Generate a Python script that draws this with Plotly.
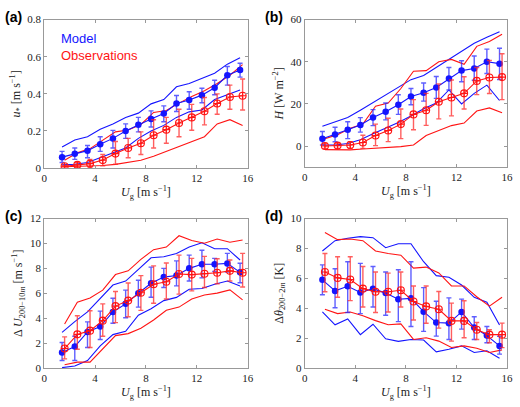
import plotly.graph_objects as go

# ---------------- data ----------------
x_model = [1.4, 2.4, 3.4, 4.4, 5.4, 6.4, 7.4, 8.4, 9.4, 10.4, 11.4, 12.4, 13.4, 14.4, 15.4]
x_obs = [1.6, 2.6, 3.6, 4.6, 5.6, 6.6, 7.6, 8.6, 9.6, 10.6, 11.6, 12.6, 13.6, 14.6, 15.6]

# (a) u*
a_mod = [0.059, 0.077, 0.094, 0.129, 0.16, 0.2, 0.233, 0.264, 0.294, 0.348, 0.367, 0.393, 0.433, 0.50, 0.529]
a_mod_hi = [0.09, 0.108, 0.122, 0.169, 0.203, 0.238, 0.273, 0.308, 0.335, 0.391, 0.411, 0.430, 0.473, 0.547, 0.565]
a_mod_lo = [0.03, 0.047, 0.056, 0.09, 0.108, 0.16, 0.195, 0.221, 0.25, 0.305, 0.317, 0.352, 0.395, 0.447, 0.49]
a_mod_up = [0.113, 0.151, 0.169, 0.209, 0.238, 0.273, 0.296, 0.346, 0.369, 0.438, 0.456, 0.482, 0.511, 0.56, 0.595]
a_mod_dn = [0.017, 0.021, 0.03, 0.056, 0.082, 0.108, 0.16, 0.2, 0.23, 0.273, 0.303, 0.313, 0.369, 0.395, 0.421]
a_obs = [0.01, 0.017, 0.024, 0.043, 0.078, 0.108, 0.134, 0.177, 0.207, 0.243, 0.273, 0.306, 0.348, 0.383, 0.39]
a_obs_hi = [0.014, 0.03, 0.047, 0.073, 0.143, 0.16, 0.195, 0.26, 0.273, 0.317, 0.343, 0.38, 0.4, 0.447, 0.48]
a_obs_lo = [0.006, 0.004, 0.004, 0.012, 0.021, 0.056, 0.073, 0.108, 0.134, 0.169, 0.204, 0.233, 0.29, 0.317, 0.313]
a_obs_up = [0.042, 0.082, 0.105, 0.15, 0.195, 0.205, 0.235, 0.30, 0.31, 0.35, 0.386, 0.417, 0.456, 0.50, 0.557]
a_obs_dn = [0.007, 0.008, 0.01, 0.014, 0.02, 0.03, 0.042, 0.064, 0.09, 0.113, 0.143, 0.169, 0.238, 0.261, 0.23]

# (b) H
b_mod = [3.5, 5.5, 7.7, 10.0, 13.5, 16.3, 19.6, 23.5, 25.3, 27.8, 32.0, 35.8, 36.8, 40.0, 39.1]
b_mod_hi = [6.9, 8.9, 11.5, 13.5, 17.3, 20.4, 24.3, 27.3, 29.9, 33.0, 37.3, 40.5, 42.7, 46.0, 46.4]
b_mod_lo = [0.5, 2.0, 3.5, 6.6, 9.7, 12.4, 15.0, 19.6, 21.3, 22.6, 26.6, 30.5, 31.2, 34.4, 31.6]
b_mod_up = [9.4, 11.5, 13.5, 17.0, 20.6, 24.3, 27.8, 31.5, 33.5, 37.3, 41.0, 45.0, 48.8, 51.6, 54.2]
b_mod_dn = [0.5, 0.5, 1.2, 3.0, 5.8, 8.4, 11.2, 14.3, 17.7, 20.4, 26.6, 20.0, 25.0, 28.9, 21.6]
b_obs = [0.0, 0.2, 0.5, 1.7, 5.0, 7.4, 10.4, 15.0, 17.0, 21.0, 23.0, 25.0, 30.9, 32.5, 32.7]
b_obs_hi = [1.2, 1.2, 2.0, 5.1, 10.4, 13.2, 17.6, 22.0, 25.0, 29.5, 31.3, 32.9, 37.3, 40.6, 43.8]
b_obs_lo = [-1.1, -1.1, -1.1, -1.1, 0.2, 2.1, 3.5, 7.7, 9.8, 12.9, 14.3, 17.6, 24.4, 24.9, 22.0]
b_obs_up = [3.5, 5.4, 8.4, 10.4, 18.9, 20.4, 27.3, 35.5, 35.8, 40.0, 41.1, 38.8, 47.3, 49.6, 53.0]
b_obs_dn = [-1.7, -1.7, -1.8, -1.4, -1.0, -0.8, -0.3, 0.5, 5.0, 7.4, 9.7, 10.9, 16.6, 18.1, 15.8]

# (c) dU 200-10m
c_mod = [1.25, 1.72, 2.9, 3.33, 4.5, 5.15, 6.0, 6.8, 7.3, 7.42, 8.0, 8.33, 8.33, 8.4, 7.68]
c_mod_hi = [2.05, 2.55, 3.7, 4.57, 5.6, 6.25, 7.05, 8.1, 8.0, 8.6, 9.06, 9.45, 8.8, 9.2, 8.41]
c_mod_lo = [0.6, 0.6, 1.65, 2.29, 3.59, 4.04, 4.89, 5.68, 6.46, 6.59, 6.98, 7.24, 7.76, 7.7, 6.85]
c_mod_up = [2.86, 3.72, 4.5, 5.54, 6.66, 6.98, 7.89, 8.85, 8.93, 9.19, 9.71, 10.05, 9.58, 9.58, 8.67]
c_mod_dn = [0.03, 0.16, 0.6, 1.77, 2.68, 2.94, 4.24, 4.76, 5.41, 5.67, 6.32, 6.38, 6.72, 6.98, 6.59]
c_obs = [1.56, 2.7, 3.0, 3.8, 4.97, 5.41, 6.04, 6.72, 6.92, 7.55, 7.5, 7.57, 7.65, 7.8, 7.65]
c_obs_hi = [2.5, 4.2, 4.6, 5.15, 6.14, 6.82, 7.42, 8.2, 8.43, 9.06, 8.8, 8.96, 8.77, 8.67, 9.2]
c_obs_lo = [0.73, 1.51, 1.64, 2.55, 3.64, 4.11, 4.63, 5.2, 5.54, 5.93, 6.19, 6.46, 6.77, 6.98, 6.5]
c_obs_up = [3.54, 5.28, 5.62, 6.25, 7.5, 7.8, 8.72, 9.5, 9.71, 10.62, 10.23, 10.02, 10.36, 10.1, 10.28]
c_obs_dn = [0.26, 0.47, 0.47, 1.5, 2.6, 2.76, 3.2, 3.85, 4.63, 4.89, 5.54, 5.86, 6.01, 6.27, 5.47]

# (d) dTheta 200-2m
d_mod = [5.9, 5.16, 5.47, 5.05, 5.31, 5.01, 4.6, 4.66, 3.77, 3.04, 3.0, 3.75, 2.71, 2.17, 1.48]
d_mod_hi = [6.9, 6.64, 7.11, 7.0, 6.79, 6.42, 6.57, 7.11, 5.38, 4.47, 4.69, 4.61, 3.43, 2.78, 2.12]
d_mod_lo = [4.9, 4.03, 3.71, 3.64, 4.08, 3.53, 3.1, 2.78, 2.45, 2.13, 1.91, 2.6, 1.91, 1.69, 0.93]
d_mod_up = [7.83, 8.52, 8.68, 8.79, 8.72, 8.05, 8.31, 8.31, 7.11, 6.18, 6.07, 5.55, 4.73, 4.4, 2.88]
d_mod_dn = [3.75, 2.89, 3.28, 2.23, 2.93, 1.95, 1.78, 1.91, 1.87, 1.08, 1.26, 1.48, 1.04, 1.15, 0.65]
d_obs = [6.42, 6.03, 5.92, 5.31, 5.1, 5.1, 5.2, 4.45, 4.12, 3.93, 3.15, 3.15, 2.56, 2.23, 2.23]
d_obs_hi = [7.66, 7.44, 7.44, 6.79, 6.42, 6.35, 6.42, 5.49, 5.49, 5.12, 4.34, 4.5, 3.04, 2.56, 3.0]
d_obs_lo = [5.1, 4.73, 4.51, 4.08, 3.71, 3.75, 4.08, 3.21, 2.99, 2.67, 1.8, 2.02, 1.91, 1.69, 1.36]
d_obs_up = [9.07, 8.59, 8.63, 8.52, 7.83, 7.66, 7.55, 6.68, 6.75, 6.36, 5.49, 5.49, 4.77, 4.14, 4.73]
d_obs_dn = [3.93, 3.64, 3.75, 3.49, 3.17, 2.89, 2.95, 1.91, 2.02, 1.8, 1.37, 1.48, 1.32, 1.04, 1.21]

panels = [
    dict(name="a", mod=a_mod, mod_hi=a_mod_hi, mod_lo=a_mod_lo, mod_up=a_mod_up, mod_dn=a_mod_dn,
         obs=a_obs, obs_hi=a_obs_hi, obs_lo=a_obs_lo, obs_up=a_obs_up, obs_dn=a_obs_dn,
         yrange=[0, 0.8], yticks=[0, 0.2, 0.4, 0.6, 0.8], yticktext=["0", "0.2", "0.4", "0.6", "0.8"],
         ytitle="<i>u</i><sub>*</sub> [m s<sup>−1</sup>]"),
    dict(name="b", mod=b_mod, mod_hi=b_mod_hi, mod_lo=b_mod_lo, mod_up=b_mod_up, mod_dn=b_mod_dn,
         obs=b_obs, obs_hi=b_obs_hi, obs_lo=b_obs_lo, obs_up=b_obs_up, obs_dn=b_obs_dn,
         yrange=[-10, 60], yticks=[0, 20, 40, 60], yticktext=["0", "20", "40", "60"],
         ytitle="<i>H</i> [W m<sup>−2</sup>]"),
    dict(name="c", mod=c_mod, mod_hi=c_mod_hi, mod_lo=c_mod_lo, mod_up=c_mod_up, mod_dn=c_mod_dn,
         obs=c_obs, obs_hi=c_obs_hi, obs_lo=c_obs_lo, obs_up=c_obs_up, obs_dn=c_obs_dn,
         yrange=[0, 12], yticks=[0, 2, 4, 6, 8, 10, 12], yticktext=["0", "2", "4", "6", "8", "10", "12"],
         ytitle="Δ <i>U</i><sub>200−10<i>m</i></sub> [m s<sup>−1</sup>]"),
    dict(name="d", mod=d_mod, mod_hi=d_mod_hi, mod_lo=d_mod_lo, mod_up=d_mod_up, mod_dn=d_mod_dn,
         obs=d_obs, obs_hi=d_obs_hi, obs_lo=d_obs_lo, obs_up=d_obs_up, obs_dn=d_obs_dn,
         yrange=[0, 10], yticks=[0, 2, 4, 6, 8, 10], yticktext=["0", "2", "4", "6", "8", "10"],
         ytitle="Δ<i>θ</i><sub>200−2<i>m</i></sub> [K]"),
]

x_ticks = [0, 4, 8, 12, 16]
x_title = "<i>U</i><sub>g</sub> [m s<sup>−1</sup>]"

W, H = 520, 407
boxes = [  # left, right, top, bottom in px
    (42, 249, 14, 167),
    (307, 513, 14, 166),
    (42, 249, 219, 373),
    (307, 513, 219, 373),
]

BLUE = "rgb(20,20,255)"
RED = "rgb(255,20,20)"
BLUE_E = "rgba(40,40,255,0.75)"
RED_E = "rgba(255,40,40,0.75)"
SERIF = "Liberation Serif, DejaVu Serif, serif"

fig = go.Figure()
layout = dict(width=W, height=H, margin=dict(l=0, r=0, t=0, b=0),
              paper_bgcolor="white", plot_bgcolor="white", showlegend=False,
              font=dict(family=SERIF, size=11, color="#222"))
annotations = []


def diff(hi, v):
    return [h - m for h, m in zip(hi, v)]


for i, (p, box) in enumerate(zip(panels, boxes)):
    k = "" if i == 0 else str(i + 1)
    xa, ya = "x" + k, "y" + k
    l, r, t, b = box
    xdom = [l / W, r / W]
    ydom = [1 - b / H, 1 - t / H]

    # envelope lines
    for ys in (p["mod_up"], p["mod_dn"]):
        fig.add_trace(go.Scatter(x=x_model, y=ys, mode="lines", line=dict(color=BLUE, width=1.1),
                                 xaxis=xa, yaxis=ya, hoverinfo="skip"))
    for ys in (p["obs_up"], p["obs_dn"]):
        fig.add_trace(go.Scatter(x=x_obs, y=ys, mode="lines", line=dict(color=RED, width=1.1),
                                 xaxis=xa, yaxis=ya, hoverinfo="skip"))
    # model mean with error bars
    fig.add_trace(go.Scatter(
        x=x_model, y=p["mod"], mode="lines+markers",
        line=dict(color=BLUE, width=1.1),
        marker=dict(symbol="circle", size=6.5, color=BLUE),
        error_y=dict(type="data", symmetric=False, array=diff(p["mod_hi"], p["mod"]),
                     arrayminus=diff(p["mod"], p["mod_lo"]), color=BLUE_E, thickness=1.4, width=2.5),
        xaxis=xa, yaxis=ya))
    # observations mean with error bars
    fig.add_trace(go.Scatter(
        x=x_obs, y=p["obs"], mode="lines+markers",
        line=dict(color=RED, width=1.1),
        marker=dict(symbol="circle-cross-open", size=7, color=RED, line=dict(width=1.1, color=RED)),
        error_y=dict(type="data", symmetric=False, array=diff(p["obs_hi"], p["obs"]),
                     arrayminus=diff(p["obs"], p["obs_lo"]), color=RED_E, thickness=1.4, width=2.5),
        xaxis=xa, yaxis=ya))

    axcommon = dict(showgrid=False, zeroline=False, showline=True, linecolor="#999",
                    linewidth=1, mirror="ticks", ticks="inside", ticklen=3, tickcolor="#999",
                    tickfont=dict(family=SERIF, size=11, color="#222"))
    layout["xaxis" + k] = dict(axcommon, domain=xdom, range=[0, 16], tickvals=x_ticks,
                               anchor=ya, title=dict(text=x_title, standoff=2,
                                                     font=dict(family=SERIF, size=12, color="#222")))
    layout["yaxis" + k] = dict(axcommon, domain=ydom, range=p["yrange"], tickvals=p["yticks"],
                               ticktext=p["yticktext"], anchor=xa,
                               title=dict(text=p["ytitle"], standoff=4,
                                          font=dict(family=SERIF, size=12, color="#222")))
    # panel label
    annotations.append(dict(text="<b>(" + p["name"] + ")</b>", xref="paper", yref="paper",
                            x=(l - 42) / W, y=1 - (t - 13) / H, xanchor="left", yanchor="top",
                            showarrow=False, font=dict(family="Liberation Sans, Arial, sans-serif",
                                                       size=14, color="black")))

annotations.append(dict(text="Model", xref="paper", yref="paper", x=57 / W, y=1 - 24 / H,
                        xanchor="left", yanchor="top", showarrow=False,
                        font=dict(family="Liberation Sans, Arial, sans-serif", size=13, color=BLUE)))
annotations.append(dict(text="Observations", xref="paper", yref="paper", x=57 / W, y=1 - 41 / H,
                        xanchor="left", yanchor="top", showarrow=False,
                        font=dict(family="Liberation Sans, Arial, sans-serif", size=13, color=RED)))
layout["annotations"] = annotations
fig.update_layout(**layout)
fig.write_html("out.html", config={"displayModeBar": False},
               post_script="document.body.style.margin='0';document.body.style.overflow='hidden';")
